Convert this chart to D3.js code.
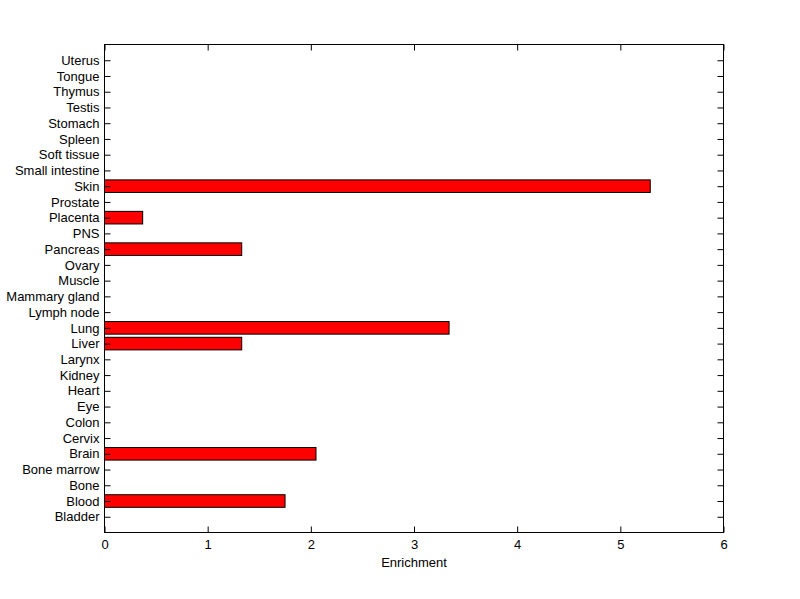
<!DOCTYPE html>
<meta charset="utf-8">
<head>
<script src="https://d3js.org/d3.v7.min.js"></script>
<style>
  body { margin: 0; background: #fff; }
  svg text { font-family: "Liberation Sans", Arial, sans-serif; font-size: 13px; fill: #000; }
</style>
</head>
<body>
<svg id="chart" width="800" height="599"></svg>
<script>

// tissues, bottom to top
var tissues = ["Bladder", "Blood", "Bone", "Bone marrow", "Brain", "Cervix", "Colon", "Eye",
  "Heart", "Kidney", "Larynx", "Liver", "Lung", "Lymph node", "Mammary gland", "Muscle",
  "Ovary", "Pancreas", "PNS", "Placenta", "Prostate", "Skin", "Small intestine",
  "Soft tissue", "Spleen", "Stomach", "Testis", "Thymus", "Tongue", "Uterus"];

var enrichment = [0, 1.75, 0, 0, 2.05, 0, 0, 0,
  0, 0, 0, 1.33, 3.34, 0, 0, 0,
  0, 1.33, 0, 0.37, 0, 5.29, 0,
  0, 0, 0, 0, 0, 0, 0];

var xTicks = [0, 1, 2, 3, 4, 5, 6];

var svg = d3.select("#chart");
var plotLeft = 104.5, plotRight = 723.5, plotTop = 44.5, plotBottom = 532.5;

var x = d3.scaleLinear().domain([0, 6]).range([plotLeft, plotRight]);
var y = d3.scaleLinear().domain([0, tissues.length + 1]).range([plotBottom, plotTop]);
var barH = (y(0) - y(0.8));

var data = tissues.map(function(t, i) { return {name: t, pos: i + 1, value: enrichment[i]}; });

// bars (barh style)
svg.append("g")
  .selectAll("rect")
  .data(data.filter(function(d) { return d.value > 0; }))
  .enter()
  .append("rect")
    .attr("x", x(0))
    .attr("y", function(d) { return y(d.pos) - barH / 2; })
    .attr("width", function(d) { return x(d.value) - x(0); })
    .attr("height", barH)
    .attr("fill", "#ff0000")
    .attr("stroke", "#000")
    .attr("stroke-width", 1);

// axes: ticks inward on every side
var tickLen = 6;
var bottomAxis = d3.axisBottom(x).tickValues(xTicks).tickFormat(d3.format("d")).tickSizeInner(-tickLen).tickSizeOuter(0).tickPadding(7);
var topAxis = d3.axisTop(x).tickValues(xTicks).tickFormat("").tickSizeInner(-tickLen).tickSizeOuter(0);
var leftAxis = d3.axisLeft(y).tickValues(d3.range(1, tissues.length + 1))
  .tickFormat(function(d) { return tissues[d - 1]; }).tickSizeInner(-tickLen).tickSizeOuter(0).tickPadding(5);
var rightAxis = d3.axisRight(y).tickValues(d3.range(1, tissues.length + 1)).tickFormat("").tickSizeInner(-tickLen).tickSizeOuter(0);

function styleAxis(g) {
  g.select(".domain").remove();
  g.selectAll("line").attr("stroke", "#000");
  g.selectAll("text").attr("font-size", null).attr("font-family", null);
}

svg.append("g").attr("transform", "translate(0," + plotBottom + ")").call(bottomAxis).call(styleAxis);
svg.append("g").attr("transform", "translate(0," + plotTop + ")").call(topAxis).call(styleAxis);
svg.append("g").attr("transform", "translate(" + plotLeft + ",0)").call(leftAxis).call(styleAxis);
svg.append("g").attr("transform", "translate(" + plotRight + ",0)").call(rightAxis).call(styleAxis);

// frame
svg.append("rect")
  .attr("x", plotLeft).attr("y", plotTop)
  .attr("width", plotRight - plotLeft).attr("height", plotBottom - plotTop)
  .attr("fill", "none").attr("stroke", "#000").attr("stroke-width", 1);

// x label
svg.append("text")
  .attr("x", (plotLeft + plotRight) / 2)
  .attr("y", 567)
  .attr("text-anchor", "middle")
  .text("Enrichment");

</script>
</body>
